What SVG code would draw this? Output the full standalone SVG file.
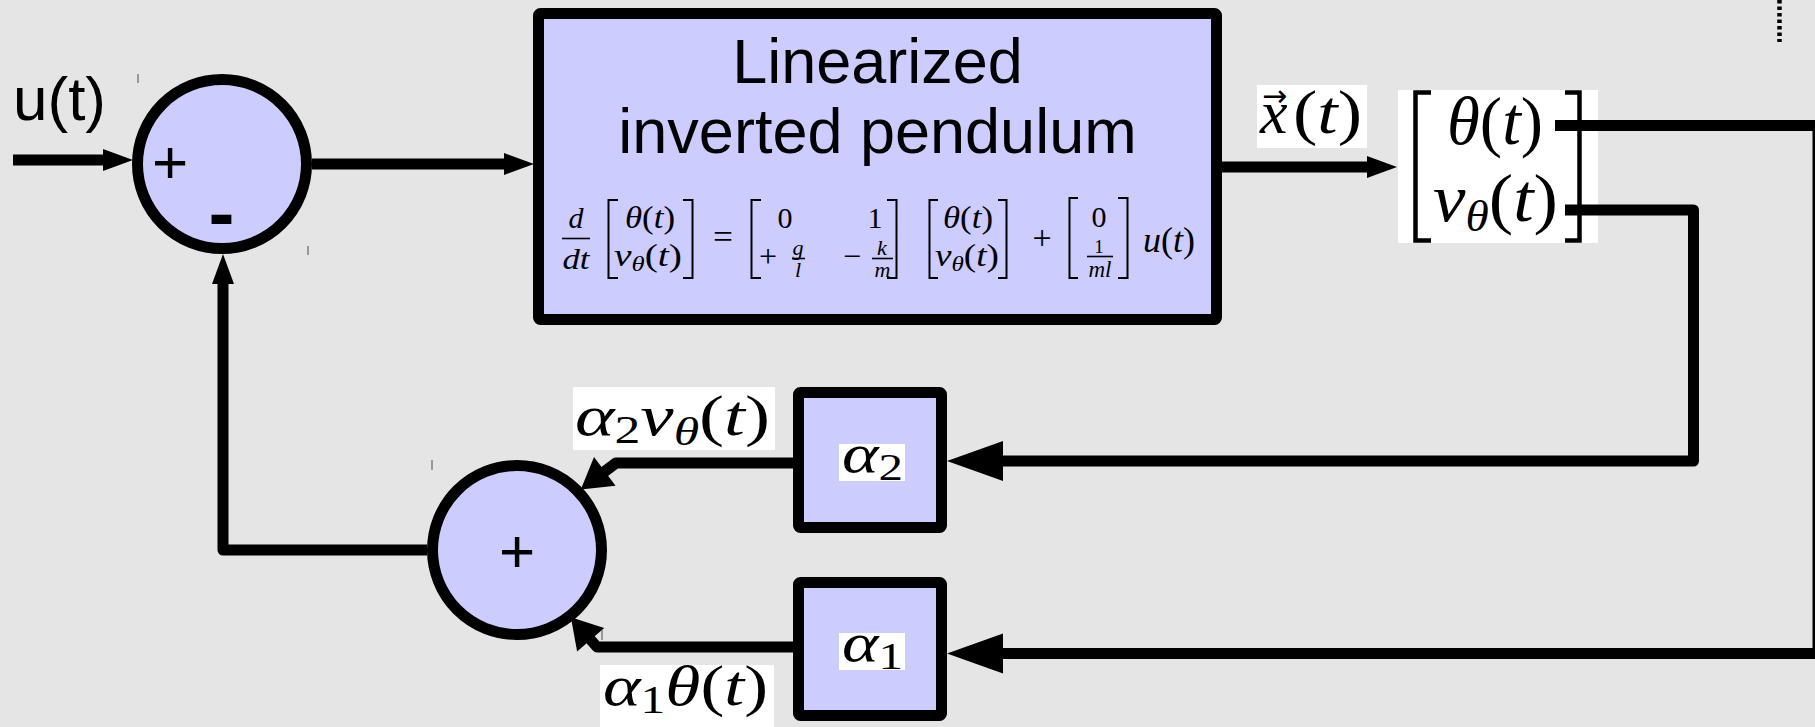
<svg xmlns="http://www.w3.org/2000/svg" width="1815" height="727" viewBox="0 0 1815 727">
<style>
.node{fill:#ccccff;stroke:#000;stroke-width:11;stroke-linejoin:round}
.wire{fill:none;stroke:#000;stroke-width:11;stroke-linejoin:round}
.sans{font-family:"Liberation Sans",Arial,sans-serif;fill:#000}
.m{font-family:"Liberation Serif","Times New Roman",serif;fill:#000}
.i{font-style:italic}
.brk{fill:none;stroke:#000;stroke-width:2}
.bar{stroke:#000;stroke-width:1.6}
.tick{stroke:#707070;stroke-width:1.3}
.wbg{fill:#fff}
</style>
<defs>
<marker id="sm" markerUnits="userSpaceOnUse" orient="auto" refX="0" refY="0" markerWidth="30" markerHeight="24" overflow="visible"><path d="M-1,-11 L29,0 L-1,11 z" fill="#000"/></marker>
<marker id="md" markerUnits="userSpaceOnUse" orient="auto" refX="0" refY="0" markerWidth="30" markerHeight="36" overflow="visible"><path d="M-1,-18 L29,0 L-1,18 z" fill="#000"/></marker>
<marker id="lg" markerUnits="userSpaceOnUse" orient="auto" refX="0" refY="0" markerWidth="56" markerHeight="40" overflow="visible"><path d="M-1,-20 L55,0 L-1,20 z" fill="#000"/></marker>
<clipPath id="clipA2"><rect x="573" y="387" width="202" height="63"/></clipPath>
<clipPath id="clipA1"><rect x="600" y="665" width="174" height="62"/></clipPath>
<clipPath id="clipX"><rect x="1257" y="85" width="110" height="63"/></clipPath>
</defs>
<rect x="0" y="0" width="1815" height="727" fill="#e5e5e5"/>

<g id="input-label">
<text class="sans" x="13" y="120" font-size="62">u(t)</text>
</g>

<g id="sum1">
<circle class="node" cx="222" cy="164" r="84.5"/>
<text class="sans" x="170" y="183" font-size="62" text-anchor="middle">+</text>
<text class="sans" x="221.5" y="240" font-size="78" font-weight="bold" text-anchor="middle">-</text>
</g>

<g id="plant">
<rect class="node" x="538.5" y="13.5" width="678" height="306" rx="2"/>
<text class="sans" x="877.5" y="83" font-size="63" text-anchor="middle">Linearized</text>
<text class="sans" x="877.5" y="153" font-size="63" text-anchor="middle">inverted pendulum</text>
<g id="equation">
<text class="m i" x="576" y="228" font-size="30" text-anchor="middle">d</text>
<line class="bar" x1="562" y1="238.5" x2="590" y2="238.5"/>
<text class="m i" x="576" y="269" font-size="30" text-anchor="middle" textLength="27" lengthAdjust="spacingAndGlyphs">dt</text>
<path class="brk" d="M618,200 H608.5 V278 H618 M683,200 H692.5 V278 H683"/>
<text class="m" x="650" y="228" font-size="31" text-anchor="middle" textLength="50" lengthAdjust="spacingAndGlyphs"><tspan class="i">θ</tspan>(<tspan class="i">t</tspan>)</text>
<text class="m" x="648" y="266" font-size="31" text-anchor="middle" textLength="68" lengthAdjust="spacingAndGlyphs"><tspan class="i">v</tspan><tspan class="i" font-size="21" dy="5">θ</tspan><tspan dy="-5">(</tspan><tspan class="i">t</tspan>)</text>
<text class="m" x="723" y="248" font-size="34" text-anchor="middle" textLength="20" lengthAdjust="spacingAndGlyphs">=</text>
<path class="brk" d="M761,200 H751.5 V278 H761 M887,200 H896.5 V278 H887"/>
<text class="m" x="785" y="228" font-size="30" text-anchor="middle">0</text>
<text class="m" x="875" y="228" font-size="30" text-anchor="middle">1</text>
<text class="m" x="768" y="267" font-size="32" text-anchor="middle">+</text>
<text class="m i" x="798" y="255" font-size="22" text-anchor="middle">g</text>
<line class="bar" x1="792" y1="258.5" x2="805" y2="258.5" stroke-width="1.3"/>
<text class="m i" x="798" y="277" font-size="22" text-anchor="middle">l</text>
<text class="m" x="852" y="267" font-size="32" text-anchor="middle">−</text>
<text class="m i" x="882" y="255" font-size="22" text-anchor="middle">k</text>
<line class="bar" x1="872" y1="258.5" x2="893" y2="258.5" stroke-width="1.3"/>
<text class="m i" x="882.5" y="277" font-size="22" text-anchor="middle">m</text>
<path class="brk" d="M938,200 H929.5 V278 H938 M998,200 H1006.5 V278 H998"/>
<text class="m" x="968" y="228" font-size="31" text-anchor="middle" textLength="50" lengthAdjust="spacingAndGlyphs"><tspan class="i">θ</tspan>(<tspan class="i">t</tspan>)</text>
<text class="m" x="967" y="266" font-size="31" text-anchor="middle" textLength="64" lengthAdjust="spacingAndGlyphs"><tspan class="i">v</tspan><tspan class="i" font-size="21" dy="5">θ</tspan><tspan dy="-5">(</tspan><tspan class="i">t</tspan>)</text>
<text class="m" x="1042" y="249" font-size="34" text-anchor="middle">+</text>
<path class="brk" d="M1078,198 H1069.5 V278 H1078 M1118,198 H1127.5 V278 H1118"/>
<text class="m" x="1099" y="227" font-size="30" text-anchor="middle">0</text>
<text class="m" x="1099" y="253" font-size="19" text-anchor="middle">1</text>
<line class="bar" x1="1087" y1="256.5" x2="1113" y2="256.5" stroke-width="1.3"/>
<text class="m i" x="1100" y="277" font-size="23" text-anchor="middle">ml</text>
<text class="m" x="1143" y="252" font-size="35" textLength="52" lengthAdjust="spacingAndGlyphs"><tspan class="i">u</tspan>(<tspan class="i">t</tspan>)</text>
</g>
</g>

<g id="state-vector">
<rect class="wbg" x="1398" y="90" width="200" height="153"/>
<path fill="none" stroke="#000" stroke-width="4.5" d="M1431,92.5 H1415.5 V240.5 H1431 M1565,92.5 H1579.5 V240.5 H1565"/>
<text class="m" x="1447" y="144" font-size="68" textLength="96" lengthAdjust="spacingAndGlyphs"><tspan class="i">θ</tspan>(<tspan class="i">t</tspan>)</text>
<text class="m" x="1433" y="221" font-size="68" textLength="125" lengthAdjust="spacingAndGlyphs"><tspan class="i">v</tspan><tspan class="i" font-size="44" dy="10">θ</tspan><tspan dy="-10">(</tspan><tspan class="i">t</tspan>)</text>
</g>

<g id="gain2">
<rect class="node" x="798.5" y="392.5" width="143" height="135" rx="2"/>
<rect class="wbg" x="839" y="444" width="66" height="37"/>
<text class="m" x="842" y="472" font-size="54" textLength="61" lengthAdjust="spacingAndGlyphs"><tspan class="i">α</tspan><tspan font-size="38" dy="8">2</tspan></text>
</g>

<g id="gain1">
<rect class="node" x="798.5" y="582.5" width="143" height="133" rx="2"/>
<rect class="wbg" x="839" y="633" width="66" height="37"/>
<text class="m" x="842" y="661" font-size="54" textLength="61" lengthAdjust="spacingAndGlyphs"><tspan class="i">α</tspan><tspan font-size="38" dy="8">1</tspan></text>
</g>

<g id="sum2">
<circle class="node" cx="517" cy="550" r="84.5"/>
<text class="sans" x="517" y="572" font-size="62" text-anchor="middle">+</text>
</g>

<g id="label-x">
<rect class="wbg" x="1257" y="85" width="110" height="63"/>
<text class="m" x="1260" y="133" font-size="62" clip-path="url(#clipX)"><tspan class="i">x</tspan><tspan x="1262" dy="-27" font-size="30" font-family="'DejaVu Sans',sans-serif">→</tspan></text>
<text class="m" x="1293" y="133" font-size="62" textLength="69" lengthAdjust="spacingAndGlyphs" clip-path="url(#clipX)">(<tspan class="i">t</tspan>)</text>
</g>

<g id="label-a2v">
<rect class="wbg" x="573" y="387" width="202" height="63"/>
<text class="m" x="575" y="435" font-size="58" textLength="195" lengthAdjust="spacingAndGlyphs" clip-path="url(#clipA2)"><tspan class="i">α</tspan><tspan font-size="40" dy="8">2</tspan><tspan class="i" dy="-8">v</tspan><tspan class="i" font-size="40" dy="10">θ</tspan><tspan dy="-10">(</tspan><tspan class="i">t</tspan>)</text>
</g>

<g id="label-a1theta">
<rect class="wbg" x="600" y="665" width="174" height="62"/>
<text class="m" x="603" y="705" font-size="58" textLength="165" lengthAdjust="spacingAndGlyphs" clip-path="url(#clipA1)"><tspan class="i">α</tspan><tspan font-size="40" dy="8">1</tspan><tspan class="i" dy="-8">θ</tspan>(<tspan class="i">t</tspan>)</text>
</g>

<g id="connectors">
<path class="wire" d="M13,160 H104" marker-end="url(#sm)"/>
<path class="wire" d="M312,164 H505" marker-end="url(#sm)"/>
<path class="wire" d="M1222,167 H1368" marker-end="url(#sm)"/>
<path class="wire" d="M1555,125.5 H1818 V653.5 H1002" marker-end="url(#lg)"/>
<path class="wire" d="M1565,210 H1693.5 V461 H1002" marker-end="url(#lg)"/>
<path class="wire" d="M793,463 H616 L604,472" marker-end="url(#md)"/>
<path class="wire" d="M793,647 H597 L590,639" marker-end="url(#md)"/>
<path class="wire" d="M427,550 H223 V283" marker-end="url(#sm)"/>
</g>

<g id="marks">
<line class="tick" x1="138" y1="74" x2="138" y2="83"/>
<line class="tick" x1="308" y1="246" x2="308" y2="255"/>
<line class="tick" x1="432" y1="460" x2="432" y2="470"/>
<line class="tick" x1="602" y1="630" x2="602" y2="640"/>
<line x1="1779.5" y1="0" x2="1779.5" y2="42" stroke="#000" stroke-width="4.5" stroke-dasharray="3.5 3"/>
</g>
</svg>
